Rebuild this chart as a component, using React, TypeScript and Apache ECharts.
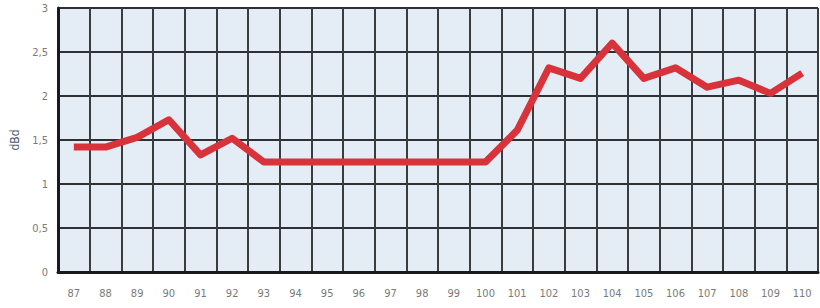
import React, { useEffect, useRef } from "react";
import * as echarts from "echarts";

const categories = ["87","88","89","90","91","92","93","94","95","96","97","98","99","100","101","102","103","104","105","106","107","108","109","110"];
const values = [1.42,1.42,1.53,1.73,1.33,1.52,1.25,1.25,1.25,1.25,1.25,1.25,1.25,1.25,1.61,2.32,2.2,2.6,2.2,2.32,2.1,2.18,2.03,2.26];
const yTicks = { min: 0, max: 3, interval: 0.5 };
const yName = "dBd";

export default function App() {
  const ref = useRef<HTMLDivElement>(null);
  useEffect(() => {
    if (!ref.current) return;
    const chart = echarts.init(ref.current, null, { renderer: "svg" });
    chart.setOption({
      animation: false,
      grid: {
        left: 58, top: 8, right: 2, bottom: 36,
        show: true, backgroundColor: "#e4ecf5", borderWidth: 0,
      },
      xAxis: {
        type: "category",
        data: categories,
        boundaryGap: true,
        axisLine: { show: true, lineStyle: { color: "#1a1a1a", width: 3 } },
        axisTick: { show: false },
        axisLabel: {
          color: "#7a7a7a", fontSize: 11, margin: 16,
          fontFamily: "DejaVu Sans Condensed",
        },
        splitLine: { show: true, lineStyle: { color: "#3a3d40", width: 2 } },
      },
      yAxis: {
        type: "value",
        min: yTicks.min, max: yTicks.max, interval: yTicks.interval,
        name: yName,
        nameLocation: "middle",
        nameGap: 30,
        nameRotate: 90,
        nameTextStyle: { color: "#4a5878", fontSize: 12, fontFamily: "DejaVu Sans Condensed" },
        axisLine: { show: true, lineStyle: { color: "#1a1a1a", width: 3 } },
        axisTick: { show: false },
        axisLabel: {
          color: "#7a7a7a", fontSize: 11, margin: 10,
          fontFamily: "DejaVu Sans Condensed",
          formatter: (v: number) => String(v).replace(".", ","),
        },
        splitLine: { show: true, lineStyle: { color: "#2e3134", width: 2 } },
      },
      series: [
        {
          type: "line",
          data: values,
          symbol: "none",
          lineStyle: { color: "#d8323a", width: 7, join: "round" },
          z: 5,
        },
      ],
    });
    return () => chart.dispose();
  }, []);
  return <div ref={ref} style={{ width: 820, height: 308, position: "absolute", left: 0, top: 0, background: "#fff" }} />;
}
